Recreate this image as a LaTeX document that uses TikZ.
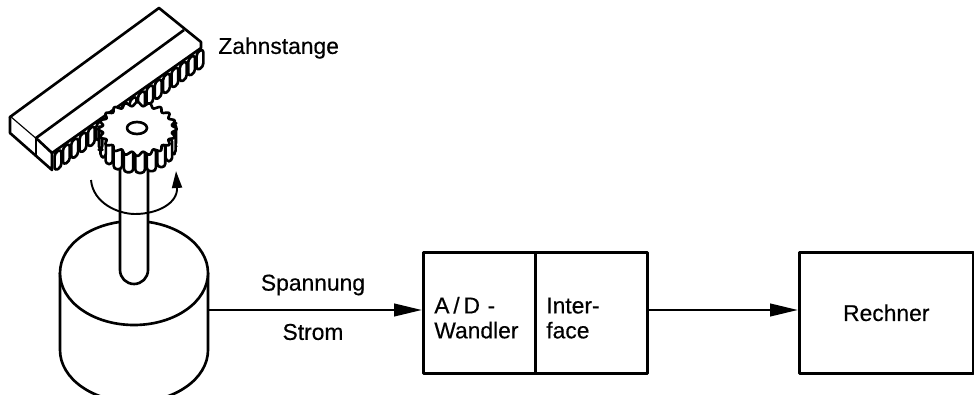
\documentclass[tikz,border=0pt]{standalone}
\usepackage{fontspec}
\setmainfont[FakeBold=0.4]{Liberation Sans}
\usetikzlibrary{arrows.meta}
\tikzset{
    label text/.style={inner sep=0pt, font=\fontsize{13}{14.2}\selectfont},
    block/.style={draw, anchor=north west, minimum height=2.42cm, inner xsep=.22cm, inner ysep=0pt, align=left, font=\fontsize{13}{14.2}\selectfont},
    flow/.style={-{Stealth[inset=0pt,length=.56cm,width=.25cm]}},
}

\begin{document}
\begin{tikzpicture}[line width=1.5pt, x=.02cm, y=-.02cm, line join=round]
    \path[use as bounding box, clip] (0,0) rectangle (974,395);
    \draw[fill=white] (159,8) -- (201,42) -- (201,48) -- (52,153) -- (10,117) -- cycle;
    \draw[fill=white] (10,117) -- (10,133) -- (52,170) -- (52,153);
    \draw (184,30) -- (36,138) -- (52,153);
    \draw (36,138) -- (36,155);
    \foreach \i in {0,...,17} {
        \pgfmathsetmacro{\tx}{58+\i*8.35}
        \pgfmathsetmacro{\ty}{151-\i*5.9}
        \draw[fill=white, rounded corners=2] ({\tx-3.4},{\ty+2}) -- ({\tx-3.4},{\ty+20}) -- ({\tx+3.4},{\ty+16}) -- ({\tx+3.4},{\ty-2}) -- cycle;
    }
    \draw[fill=white] (60,273) -- (60,350) arc[start angle=180, end angle=0, x radius=74, y radius=52] -- (208,273);
    \draw[fill=white] (134,273) ellipse[x radius=74, y radius=52];
    \draw[fill=white] (120,165) -- (120,270) arc[start angle=180, end angle=0, x radius=14, y radius=14] -- (148,165);
    \coordinate (geber) at (208,310);
    \foreach \a in {-4,14,...,184} {
        \pgfmathsetmacro{\gx}{137.5+37*cos(\a)}
        \pgfmathsetmacro{\gy}{129+25*sin(\a)}
        \pgfmathsetmacro{\gw}{1.4+3.4*abs(sin(\a))}
        \draw[fill=white, rounded corners=2] ({\gx-\gw},{\gy-4}) rectangle ({\gx+\gw},{\gy+19});
    }
    \draw[fill=white] plot[samples=161, domain=0:360, variable=\t] ({137.5+37*(1+.06*cos(20*\t))*cos(\t)},{129+25*(1+.08*cos(20*\t))*sin(\t)}) -- cycle;
    \draw (137,128) ellipse[x radius=10, y radius=6];
    \draw[line width=1.1pt, -{Stealth[inset=0pt,length=.34cm,width=.2cm]}] (91,180) .. controls (93,203) and (118,214) .. (135,214) .. controls (158,214) and (178,203) .. (176,171);
    \node[label text, anchor=west] (zahnstange) at (217,48) {Zahnstange};
    \node[block, minimum width=2.24cm, text width=1.8cm] (wandler) at (422,251) {\rule{0pt}{15pt}A\,/\,D -\\Wandler};
    \node[block, minimum width=2.24cm, text width=1.8cm] (interface) at (534,251) {\rule{0pt}{15pt}Inter-\\face};
    \node[block, minimum width=3.48cm] (rechner) at (798,251) {Rechner};
    \draw[flow] (geber) -- (wandler.west |- geber);
    \draw[flow] (interface.east |- geber) -- (rechner.west |- geber);
    \node[label text] (spannung) at (313,285) {Spannung};
    \node[label text] (strom) at (313,332) {Strom};
\end{tikzpicture}
\end{document}
